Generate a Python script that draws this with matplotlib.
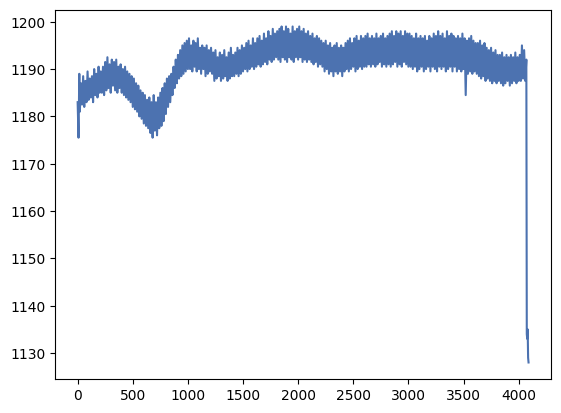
import numpy as np
import matplotlib.pyplot as plt

# first few samples (start-up spike)
head_x = [0, 8, 15]
head_y = [1183, 1175.5, 1189]

# main band, one sample every 10 steps starting at 20
band_start = 20
band_step = 10
band_y = [
    1181, 1187, 1182.5, 1188.5, 1182, 1187.5, 1183, 1189.5, 1183.5, 1188, 1184, 1188.5, 1183, 1190, 1184.5, 1189, 1184, 1190.5, 1185, 1189.5,
    1185, 1190.5, 1184.5, 1191.5, 1185.5, 1192.5, 1186, 1191, 1185, 1192, 1186.5, 1191.5, 1185.5, 1192, 1185, 1190.5, 1186, 1191, 1185, 1190,
    1184.5, 1190.5, 1184, 1189.5, 1183.5, 1189, 1183, 1188.5, 1182, 1188, 1181.5, 1187, 1181, 1186.5, 1180, 1185.5, 1179.5, 1185, 1178.5, 1184.5,
    1178, 1183.5, 1177.5, 1184, 1176.5, 1183, 1175.5, 1184.5, 1177, 1183, 1176, 1184, 1177.5, 1185, 1178, 1186, 1179, 1187, 1180.5, 1188,
    1182, 1188.5, 1183, 1189, 1184.5, 1190.5, 1186, 1192, 1187, 1193, 1188, 1194, 1188.5, 1195, 1189, 1195.5, 1189.5, 1196, 1190, 1196.5,
    1190, 1195, 1189.5, 1196, 1190.5, 1195.5, 1189.5, 1196.5, 1190, 1194.5, 1189, 1195, 1190, 1194.5, 1188.5, 1195, 1189, 1194, 1189.5, 1194.5,
    1189, 1193.5, 1187.5, 1194, 1188, 1192.5, 1188.5, 1193.5, 1187.5, 1193, 1188, 1194, 1188.5, 1192.5, 1187.5, 1193.5, 1188, 1194.5, 1188.5, 1193,
    1188.5, 1193.5, 1189, 1194.5, 1188.5, 1194, 1189, 1195, 1189.5, 1194.5, 1190, 1195.5, 1189.5, 1196, 1190, 1195, 1190.5, 1196.5, 1190, 1195.5,
    1190.5, 1196.5, 1191, 1197, 1190.5, 1196, 1191, 1197.5, 1191.5, 1196.5, 1191, 1198, 1192, 1197, 1191.5, 1198.5, 1192, 1197.5, 1192.5, 1198,
    1192, 1198.5, 1191.5, 1199, 1192.5, 1198, 1192, 1199, 1191.5, 1198.5, 1192.5, 1197.5, 1192, 1199, 1191.5, 1198, 1192.5, 1198.5, 1192, 1199,
    1192.5, 1198, 1191.5, 1198.5, 1192, 1197.5, 1191.5, 1198, 1192, 1197, 1191.5, 1197.5, 1191, 1196.5, 1191.5, 1197, 1190.5, 1196.5, 1191, 1196,
    1190.5, 1195.5, 1189.5, 1196, 1190, 1195, 1189, 1195.5, 1189.5, 1194.5, 1188.5, 1195, 1189.5, 1195.5, 1189, 1194.5, 1189.5, 1195, 1188.5, 1194.5,
    1189.5, 1195.5, 1190, 1196, 1189.5, 1196.5, 1190, 1195.5, 1190.5, 1196.5, 1189.5, 1197, 1190, 1196, 1190.5, 1197, 1190, 1196.5, 1190.5, 1197,
    1190.5, 1197.5, 1191, 1196.5, 1190.5, 1197, 1191, 1196.5, 1190.5, 1197.5, 1191, 1196.5, 1191.5, 1197, 1190.5, 1197.5, 1191, 1196.5, 1190.5, 1197,
    1191, 1197.5, 1190.5, 1198, 1191, 1197, 1191.5, 1198, 1190.5, 1197.5, 1191, 1198, 1190.5, 1197, 1191.5, 1198, 1191, 1197.5, 1190.5, 1197.5,
    1190.5, 1197, 1190, 1196.5, 1190.5, 1197.5, 1189.5, 1196.5, 1190, 1197, 1190.5, 1196.5, 1189.5, 1197, 1190, 1196, 1190.5, 1197, 1189.5, 1196.5,
    1190.5, 1197.5, 1190, 1197, 1189.5, 1198, 1190.5, 1197, 1190, 1197.5, 1190.5, 1196.5, 1189.5, 1198, 1190, 1197, 1190.5, 1197.5, 1189.5, 1197,
    1190.5, 1196.5, 1189.5, 1197, 1190, 1196.5, 1189.5, 1197.5, 1190, 1196.5, 1184.5, 1196, 1189, 1196.5, 1189.5, 1197, 1189, 1196, 1189.5, 1195.5,
    1189, 1195.5, 1188.5, 1196, 1188, 1195, 1188.5, 1195.5, 1187.5, 1194.5, 1188, 1194, 1187.5, 1194.5, 1187, 1193.5, 1187.5, 1194, 1187, 1193,
    1187.5, 1193, 1187, 1193.5, 1186.5, 1192.5, 1187, 1193, 1187.5, 1192.5, 1186.5, 1193, 1187, 1192.5, 1187.5, 1193.5, 1187, 1192.5, 1187.5, 1193,
    1187.5, 1195, 1188, 1194, 1187.5,
]

# final drop
tail_x = [4070, 4074, 4078, 4082, 4086, 4090]
tail_y = [1192, 1134, 1133, 1135, 1129, 1128]

band_x = band_start + band_step * np.arange(len(band_y))
x = np.concatenate([head_x, band_x, tail_x])
y = np.concatenate([head_y, band_y, tail_y])

fig, ax = plt.subplots(figsize=(6.4, 4.8), dpi=100)
ax.plot(x, y, color='#4C72B0', linewidth=1.5)

fig.savefig('out.png', dpi=100, bbox_inches='tight')
